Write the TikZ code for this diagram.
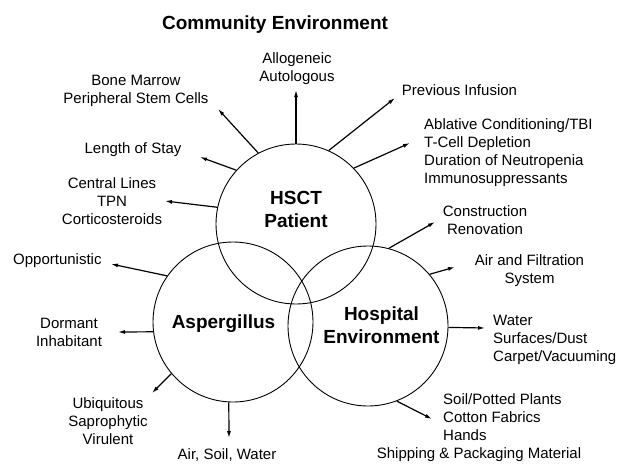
\documentclass[tikz,border=0pt]{standalone}
\usepackage{fontspec}
\setmainfont{Liberation Sans}
\usepackage{tikz}
\usetikzlibrary{arrows.meta,positioning}

\begin{document}
\begin{tikzpicture}[x=1pt, y=-1pt,
  ring/.style={draw, circle, minimum size=160pt, inner sep=0pt, line width=0.9pt},
  head/.style={font=\fontsize{19}{23}\selectfont\bfseries, align=center, inner sep=0pt},
  lbl/.style={font=\fontsize{15}{18}\selectfont, align=center, inner sep=0pt},
  arrow/.style={-{Latex[length=7pt,width=4pt]}, line width=1.2pt}
]
\path[fill=white, use as bounding box] (0,0) rectangle (620,463);

\node[head] (title) at (275,25) {Community Environment};

% the three overlapping circles
\node[ring] (hsct) at (296,224) {};
\node[ring] (asp) at (233,322) {};
\node[ring] (hosp) at (368,326) {};
\node[head] (hsctTxt) at (296,209) {HSCT\\Patient};
\node[head] (aspTxt) at (223.5,323.5) {Aspergillus};
\node[head] (hospTxt) at (381.5,325.5) {Hospital\\Environment};

% labels round the patient
\node[lbl] (allo) at (297,69) {Allogeneic\\Autologous};
\node[lbl] (bone) at (136,91) {Bone Marrow\\Peripheral Stem Cells};
\node[lbl] (stay) at (133,150) {Length of Stay};
\node[lbl] (lines) at (112,201) {Central Lines\\TPN\\Corticosteroids};
\node[lbl] (prev) at (459.5,90.5) {Previous Infusion};
\node[lbl, align=left, anchor=west] (abl) at (424,153) {Ablative Conditioning/TBI\\T-Cell Depletion\\Duration of Neutropenia\\Immunosuppressants};

% labels round the fungus
\node[lbl, align=left, anchor=west] (opp) at (13,260.5) {Opportunistic};
\node[lbl] (dorm) at (69,332) {Dormant\\Inhabitant};
\node[lbl] (ubiq) at (108,421.5) {Ubiquitous\\Saprophytic\\Virulent};
\node[lbl] (ext) at (227,455) {Air, Soil, Water};

% labels round the hospital
\node[lbl] (build) at (485,220) {Construction\\Renovation};
\node[lbl] (filt) at (529.5,270.5) {Air and Filtration\\System};
\node[lbl, align=left, anchor=west] (water) at (493,339.5) {Water\\Surfaces/Dust\\Carpet/Vacuuming};
\node[lbl, align=left, anchor=west] (soil) at (443,417) {Soil/Potted Plants\\Cotton Fabrics\\Hands};
\node[lbl] (ship) at (479,455) {Shipping \& Packaging Material};

% arrow tips
\coordinate (alloTip) at (296,90);
\coordinate (boneTip) at (218,109);
\coordinate (stayTip) at (200,157);
\coordinate (linesTip) at (165,201);
\coordinate (prevTip) at (395,98);
\coordinate (ablTip) at (410,143);
\coordinate (oppTip) at (111,264);
\coordinate (dormTip) at (118,332);
\coordinate (ubiqTip) at (152,393);
\coordinate (extTip) at (229,438);
\coordinate (buildTip) at (435,222);
\coordinate (filtTip) at (455,267);
\coordinate (waterTip) at (485,328);
\coordinate (soilTip) at (432,419);

\draw[arrow] (hsct.90) -- (alloTip);
\draw[arrow] (hsct.118.2) -- (boneTip);
\draw[arrow] (hsct.138) -- (stayTip);
\draw[arrow] (hsct.168.7) -- (linesTip);
\draw[arrow] (hsct.66) -- (prevTip);
\draw[arrow] (hsct.44.5) -- (ablTip);

\draw[arrow] (asp.145) -- (oppTip);
\draw[arrow] (asp.187.2) -- (dormTip);
\draw[arrow] (asp.220) -- (ubiqTip);
\draw[arrow] (asp.267) -- (extTip);

\draw[arrow] (hosp.75.4) -- (buildTip);
\draw[arrow] (hosp.40) -- (filtTip);
\draw[arrow] (hosp.-1.5) -- (waterTip);
\draw[arrow] (hosp.-69.5) -- (soilTip);
\end{tikzpicture}
\end{document}
